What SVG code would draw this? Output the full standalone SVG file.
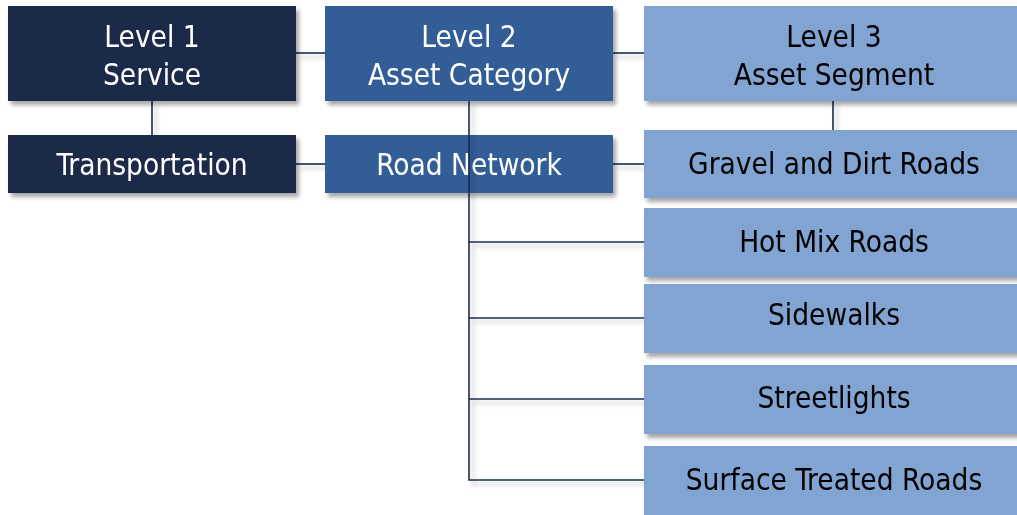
<svg xmlns="http://www.w3.org/2000/svg" width="1017" height="515" viewBox="0 0 1017 515">
<defs>
<filter id="sh" x="-10%" y="-20%" width="130%" height="160%">
<feDropShadow dx="3" dy="4" stdDeviation="2" flood-color="#000" flood-opacity="0.35"/>
</filter>
<filter id="lsh" x="-20%" y="-20%" width="140%" height="140%">
<feDropShadow dx="4" dy="4" stdDeviation="2" flood-color="#000" flood-opacity="0.25"/>
</filter>
</defs>
<style>
.l1{fill:#1b2b48}
.l2{fill:#325d97}
.l3{fill:#82a4d3}
text{font-family:"DejaVu Sans Condensed","DejaVu Sans",sans-serif;font-stretch:condensed;font-size:29.5px;text-anchor:middle}
.w{fill:#ffffff}
.k{fill:#000000}
.ln{stroke:#1c2e4d;stroke-width:1.6;fill:none}
</style>
<rect width="1017" height="515" fill="#ffffff"/>
<g id="connectors-back" filter="url(#lsh)">
<line class="ln" x1="296" y1="53" x2="325" y2="53"/>
<line class="ln" x1="152" y1="101" x2="152" y2="135"/>
<line class="ln" x1="296" y1="164" x2="325" y2="164"/>
<line class="ln" x1="613" y1="53" x2="644" y2="53"/>
<line class="ln" x1="613" y1="164" x2="644" y2="164"/>
<line class="ln" x1="833" y1="101" x2="833" y2="130"/>
</g>
<g id="level1" filter="url(#sh)">
<rect class="l1" x="8" y="6" width="288" height="95"/>
<text class="w" x="152" y="47">Level 1</text>
<text class="w" x="152" y="85">Service</text>
</g>
<g id="level2" filter="url(#sh)">
<rect class="l2" x="325" y="6" width="288" height="95"/>
<text class="w" x="469" y="47">Level 2</text>
<text class="w" x="469" y="85">Asset Category</text>
</g>
<g id="level3" filter="url(#sh)">
<rect class="l3" x="644" y="6" width="380" height="95"/>
<text class="k" x="834" y="47">Level 3</text>
<text class="k" x="834" y="85">Asset Segment</text>
</g>
<g id="transportation" filter="url(#sh)">
<rect class="l1" x="8" y="135" width="288" height="58"/>
<text class="w" x="152" y="175">Transportation</text>
</g>
<g id="road-network" filter="url(#sh)">
<rect class="l2" x="325" y="135" width="288" height="58"/>
<text class="w" x="469" y="175">Road Network</text>
</g>
<g id="connectors" filter="url(#lsh)">
<polyline class="ln" points="469,101 469,480 644,480"/>
<line class="ln" x1="469" y1="242" x2="644" y2="242"/>
<line class="ln" x1="469" y1="318" x2="644" y2="318"/>
<line class="ln" x1="469" y1="399" x2="644" y2="399"/>
</g>
<g id="gravel" filter="url(#sh)">
<rect class="l3" x="644" y="130" width="380" height="68"/>
<text class="k" x="834" y="174">Gravel and Dirt Roads</text>
</g>
<g id="hotmix" filter="url(#sh)">
<rect class="l3" x="644" y="208" width="380" height="69"/>
<text class="k" x="834" y="252">Hot Mix Roads</text>
</g>
<g id="sidewalks" filter="url(#sh)">
<rect class="l3" x="644" y="284" width="380" height="69"/>
<text class="k" x="834" y="325">Sidewalks</text>
</g>
<g id="streetlights" filter="url(#sh)">
<rect class="l3" x="644" y="365" width="380" height="69"/>
<text class="k" x="834" y="408">Streetlights</text>
</g>
<g id="surface" filter="url(#sh)">
<rect class="l3" x="644" y="446" width="380" height="72"/>
<text class="k" x="834" y="490">Surface Treated Roads</text>
</g>
</svg>
